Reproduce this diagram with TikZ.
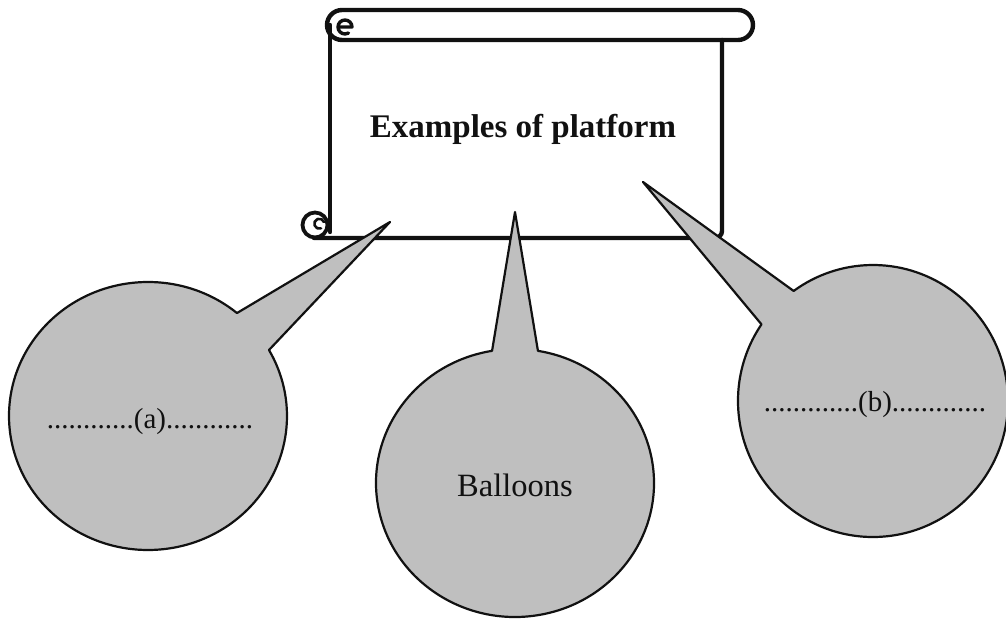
\documentclass[tikz,border=0pt]{standalone}
\usepackage{fontspec}
\setmainfont{Liberation Serif}
\usetikzlibrary{calc}
\definecolor{balloongray}{HTML}{BFBFBF}
\definecolor{inkblack}{HTML}{111111}

\tikzset{
  scrollline/.style={draw=inkblack,line width=4.4pt,line cap=round,line join=round},
  balloon/.style={fill=balloongray,draw=inkblack,line width=2.2pt,line join=round},
  balloontext/.style={inkblack,anchor=base,font=\fontsize{29}{35}\selectfont},
}

\begin{document}
\begin{tikzpicture}[x=1pt,y=1pt]
  \useasboundingbox (0,0) rectangle (1006,619);

  % ===============================================================
  % SCROLL: title sheet at the top
  % ===============================================================
  \fill[white] (330,381) rectangle (722,595);

  % top roll
  \draw[scrollline,fill=white,rounded corners=15pt] (327,579) rectangle (753,609);
  \draw[scrollline,line width=3.4pt] (338,592) -- (352,592)
        arc[start angle=0,end angle=300,radius=7];

  % sheet edges
  \draw[scrollline] (722,579) -- (722,388) arc[start angle=0,end angle=-90,radius=7] -- (314,381);
  \draw[scrollline] (330,387) -- (330,594);

  % bottom left curl
  \draw[scrollline,line width=3.8pt] (315,394) circle[radius=12.5];
  \draw[scrollline,line width=2.6pt] (324,397) arc[start angle=20,end angle=290,radius=5];

  % Title
  \node[inkblack,anchor=base,font=\bfseries\fontsize{33}{40}\selectfont] (title) at (523,481)
        {Examples of platform};

  % ===============================================================
  % BALLOONS: three callouts pointing at the scroll
  % ===============================================================
  \coordinate (cL) at (148,203);
  \coordinate (tipL) at (390,397);
  \coordinate (cM) at (515,136);
  \coordinate (tipM) at (515,407);
  \coordinate (cR) at (873,218);
  \coordinate (tipR) at (643,437);

  % Left balloon (a)
  \filldraw[balloon] ($(cL)+(29.5:139 and 134)$) -- (tipL) -- ($(cL)+(50.2:139 and 134)$)
        arc[start angle=50.2,end angle=389.5,x radius=139,y radius=134] -- cycle;
  \node[balloontext] (optA) at (150,191) {............(a)............};

  % Middle balloon
  \filldraw[balloon] ($(cM)+(80.5:139 and 134)$) -- (tipM) -- ($(cM)+(99.5:139 and 134)$)
        arc[start angle=99.5,end angle=440.5,x radius=139,y radius=134] -- cycle;
  \node[balloontext,font=\fontsize{32.5}{39}\selectfont] (balloons) at (515,123) {Balloons};

  % Right balloon (b)
  \filldraw[balloon] ($(cR)+(126:135 and 136)$) -- (tipR) -- ($(cR)+(145.7:135 and 136)$)
        arc[start angle=145.7,end angle=486,x radius=135,y radius=136] -- cycle;
  \node[balloontext] (optB) at (875,208) {.............(b).............};

\end{tikzpicture}
\end{document}
